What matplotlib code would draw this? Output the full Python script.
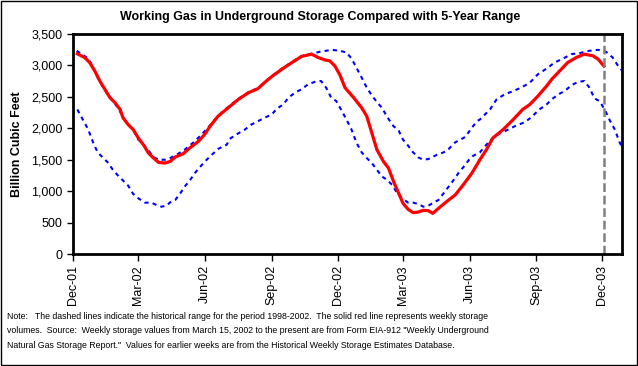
import numpy as np
import pandas as pd
import matplotlib
matplotlib.use("Agg")
import matplotlib.pyplot as plt
import matplotlib.dates as mdates
from matplotlib.ticker import StrMethodFormatter
from matplotlib.patches import Rectangle

# weekly storage (red line), billion cubic feet
storage_dates = [
    "2001-12-07", "2001-12-17", "2001-12-24", "2001-12-31", "2002-01-07", "2002-01-14",
    "2002-01-21", "2002-01-28", "2002-02-04", "2002-02-08", "2002-02-15", "2002-02-22",
    "2002-03-01", "2002-03-08", "2002-03-15", "2002-03-22", "2002-03-29", "2002-04-07",
    "2002-04-14", "2002-04-21", "2002-05-02", "2002-05-11", "2002-05-23", "2002-06-01",
    "2002-06-08", "2002-06-19", "2002-07-03", "2002-07-17", "2002-07-31", "2002-08-13",
    "2002-08-22", "2002-09-01", "2002-09-15", "2002-09-29", "2002-10-12", "2002-10-26",
    "2002-11-04", "2002-11-13", "2002-11-20", "2002-11-27", "2002-12-04", "2002-12-11",
    "2002-12-23", "2003-01-03", "2003-01-10", "2003-01-17", "2003-01-24", "2003-02-02",
    "2003-02-09", "2003-02-16", "2003-02-23", "2003-03-01", "2003-03-08", "2003-03-15",
    "2003-03-22", "2003-03-29", "2003-04-05", "2003-04-11", "2003-04-19", "2003-04-30",
    "2003-05-12", "2003-05-23", "2003-06-04", "2003-06-15", "2003-06-24", "2003-07-03",
    "2003-07-17", "2003-07-31", "2003-08-13", "2003-08-23", "2003-09-03", "2003-09-15",
    "2003-09-22", "2003-10-03", "2003-10-14", "2003-10-26", "2003-11-06", "2003-11-18",
    "2003-11-25", "2003-12-03",
]
storage = [
    3185, 3127, 3047, 2913, 2753, 2620, 2487, 2407, 2300, 2167, 2060, 1980,
    1847, 1740, 1607, 1527, 1457, 1447, 1473, 1543, 1596, 1687, 1793, 1910,
    2033, 2193, 2327, 2460, 2567, 2631, 2727, 2823, 2940, 3047, 3143, 3180,
    3127, 3089, 3073, 2993, 2850, 2647, 2487, 2327, 2193, 1927, 1660, 1473,
    1367, 1153, 967, 807, 711, 657, 668, 695, 689, 647, 727, 833,
    940, 1100, 1287, 1500, 1660, 1847, 1980, 2140, 2300, 2380, 2513, 2673,
    2780, 2913, 3047, 3127, 3180, 3153, 3100, 2990,
]

# 5-year maximum (upper dashed line)
high_dates = [
    "2001-12-06", "2001-12-22", "2001-12-29", "2002-01-04", "2002-01-11", "2002-01-18",
    "2002-01-25", "2002-02-01", "2002-02-08", "2002-02-15", "2002-02-22", "2002-03-01",
    "2002-03-08", "2002-03-15", "2002-03-22", "2002-03-29", "2002-04-07", "2002-04-14",
    "2002-04-23", "2002-05-04", "2002-05-18", "2002-05-27", "2002-06-05", "2002-06-19",
    "2002-07-03", "2002-07-17", "2002-07-31", "2002-08-13", "2002-08-22", "2002-09-01",
    "2002-09-15", "2002-09-29", "2002-10-12", "2002-10-26", "2002-11-06", "2002-11-23",
    "2002-12-04", "2002-12-13", "2002-12-20", "2003-01-03", "2003-01-10", "2003-01-17",
    "2003-01-24", "2003-01-31", "2003-02-07", "2003-02-16", "2003-02-23", "2003-03-01",
    "2003-03-08", "2003-03-15", "2003-03-22", "2003-03-29", "2003-04-05", "2003-04-17",
    "2003-04-26", "2003-05-03", "2003-05-12", "2003-05-26", "2003-06-02", "2003-06-11",
    "2003-06-15", "2003-06-29", "2003-07-08", "2003-07-19", "2003-07-31", "2003-08-11",
    "2003-08-23", "2003-09-03", "2003-09-15", "2003-09-26", "2003-10-08", "2003-10-19",
    "2003-10-30", "2003-11-13", "2003-11-25", "2003-12-06", "2003-12-15", "2003-12-24",
    "2003-12-28",
]
high = [
    3233, 3111, 2967, 2807, 2663, 2540, 2433, 2327, 2183, 2060, 1980, 1820,
    1740, 1649, 1543, 1500, 1500, 1527, 1580, 1660, 1793, 1900, 2007, 2200,
    2340, 2470, 2575, 2640, 2730, 2830, 2950, 3055, 3150, 3185, 3217, 3249,
    3233, 3207, 3111, 2807, 2647, 2524, 2417, 2327, 2183, 2033, 1964, 1820,
    1724, 1617, 1537, 1500, 1511, 1580, 1617, 1671, 1777, 1863, 1980, 2113,
    2140, 2300, 2460, 2540, 2593, 2647, 2727, 2860, 2951, 3047, 3111, 3180,
    3196, 3233, 3249, 3217, 3127, 2967, 2920,
]

# 5-year minimum (lower dashed line)
low_dates = [
    "2001-12-07", "2001-12-15", "2001-12-22", "2001-12-29", "2002-01-04", "2002-01-11",
    "2002-01-18", "2002-01-25", "2002-02-01", "2002-02-08", "2002-02-15", "2002-02-22",
    "2002-03-01", "2002-03-10", "2002-03-19", "2002-03-26", "2002-04-02", "2002-04-09",
    "2002-04-14", "2002-04-21", "2002-04-28", "2002-05-04", "2002-05-11", "2002-05-18",
    "2002-05-25", "2002-06-01", "2002-06-08", "2002-06-19", "2002-07-01", "2002-07-05",
    "2002-07-14", "2002-07-26", "2002-08-04", "2002-08-13", "2002-08-22", "2002-09-01",
    "2002-09-08", "2002-09-17", "2002-09-24", "2002-10-03", "2002-10-12", "2002-10-21",
    "2002-10-30", "2002-11-08", "2002-11-15", "2002-11-22", "2002-11-29", "2002-12-06",
    "2002-12-13", "2002-12-20", "2002-12-27", "2003-01-03", "2003-01-10", "2003-01-17",
    "2003-01-24", "2003-01-31", "2003-02-07", "2003-02-14", "2003-02-21", "2003-02-28",
    "2003-03-08", "2003-03-15", "2003-03-22", "2003-03-29", "2003-04-05", "2003-04-12",
    "2003-04-19", "2003-04-26", "2003-05-03", "2003-05-10", "2003-05-17", "2003-05-24",
    "2003-05-31", "2003-06-06", "2003-06-15", "2003-06-24", "2003-07-03", "2003-07-12",
    "2003-07-24", "2003-08-04", "2003-08-16", "2003-08-25", "2003-09-05", "2003-09-15",
    "2003-09-22", "2003-10-01", "2003-10-10", "2003-10-19", "2003-10-28", "2003-11-06",
    "2003-11-13", "2003-11-20", "2003-11-27", "2003-12-04", "2003-12-11", "2003-12-18",
    "2003-12-25", "2003-12-28",
]
low = [
    2300, 2129, 1980, 1767, 1617, 1537, 1457, 1340, 1249, 1169, 1089, 956,
    887, 817, 817, 780, 753, 769, 823, 860, 967, 1073, 1169, 1287,
    1383, 1473, 1553, 1671, 1740, 1831, 1900, 1980, 2060, 2113, 2167, 2220,
    2311, 2380, 2487, 2567, 2620, 2700, 2737, 2753, 2647, 2487, 2433, 2289,
    2140, 1980, 1767, 1617, 1527, 1447, 1340, 1233, 1180, 1100, 967, 887,
    817, 817, 796, 753, 769, 817, 860, 967, 1073, 1180, 1297, 1393,
    1500, 1564, 1617, 1740, 1847, 1916, 1980, 2044, 2097, 2177, 2300, 2380,
    2460, 2540, 2593, 2684, 2737, 2753, 2647, 2476, 2433, 2300, 2129, 1980,
    1767, 1700,
]

current_week = "2003-12-03"
note = ('Note:   The dashed lines indicate the historical range for the period 1998-2002.  '
        'The solid red line represents weekly storage\n'
        'volumes.  Source:  Weekly storage values from March 15, 2002 to the present are from '
        'Form EIA-912 "Weekly Underground\n'
        'Natural Gas Storage Report."  Values for earlier weeks are from the Historical '
        'Weekly Storage Estimates Database.')

plt.rcParams['font.family'] = ['Liberation Sans', 'DejaVu Sans']

fig = plt.figure(figsize=(6.38, 3.66), dpi=100)
ax = fig.add_axes([0.1144, 0.306, 0.8606, 0.601])

ax.plot(pd.to_datetime(high_dates), high, color='#0000FF', lw=1.5, dashes=(2, 2))
ax.plot(pd.to_datetime(low_dates), low, color='#0000FF', lw=1.5, dashes=(2, 2))
ax.plot(pd.to_datetime(storage_dates), storage, color='#FF0000', lw=2.3)
ax.axvline(pd.to_datetime(current_week), color='#808080', lw=1.8, dashes=(3.5, 1.5))

ax.set_xlim(pd.Timestamp("2001-12-01"), pd.Timestamp("2003-12-28"))
ax.set_ylim(0, 3500)
ax.set_yticks(np.arange(0, 3501, 500))
ax.yaxis.set_major_formatter(StrMethodFormatter('{x:,.0f}'))
ax.xaxis.set_major_locator(mdates.MonthLocator(bymonth=[3, 6, 9, 12]))
ax.xaxis.set_major_formatter(mdates.DateFormatter('%b-%y'))
ax.tick_params(axis='x', rotation=90, labelsize=9, length=5, width=1, direction='out', pad=3)
ax.tick_params(axis='y', labelsize=9, length=4, width=1, direction='out')
for s in ax.spines.values():
    s.set_linewidth(2)

ax.set_ylabel('Billion Cubic Feet', fontsize=9, fontweight='bold', labelpad=6)
fig.text(0.502, 0.953, 'Working Gas in Underground Storage Compared with 5-Year Range',
         ha='center', va='center', fontsize=9, fontweight='bold')
fig.text(0.011, 0.148, note, ha='left', va='top', fontsize=6.35, linespacing=1.8)

fig.add_artist(Rectangle((0.001, 0.002), 0.997, 0.995, transform=fig.transFigure,
                         fill=False, edgecolor='black', lw=1))

fig.savefig('out.png', dpi=100)
